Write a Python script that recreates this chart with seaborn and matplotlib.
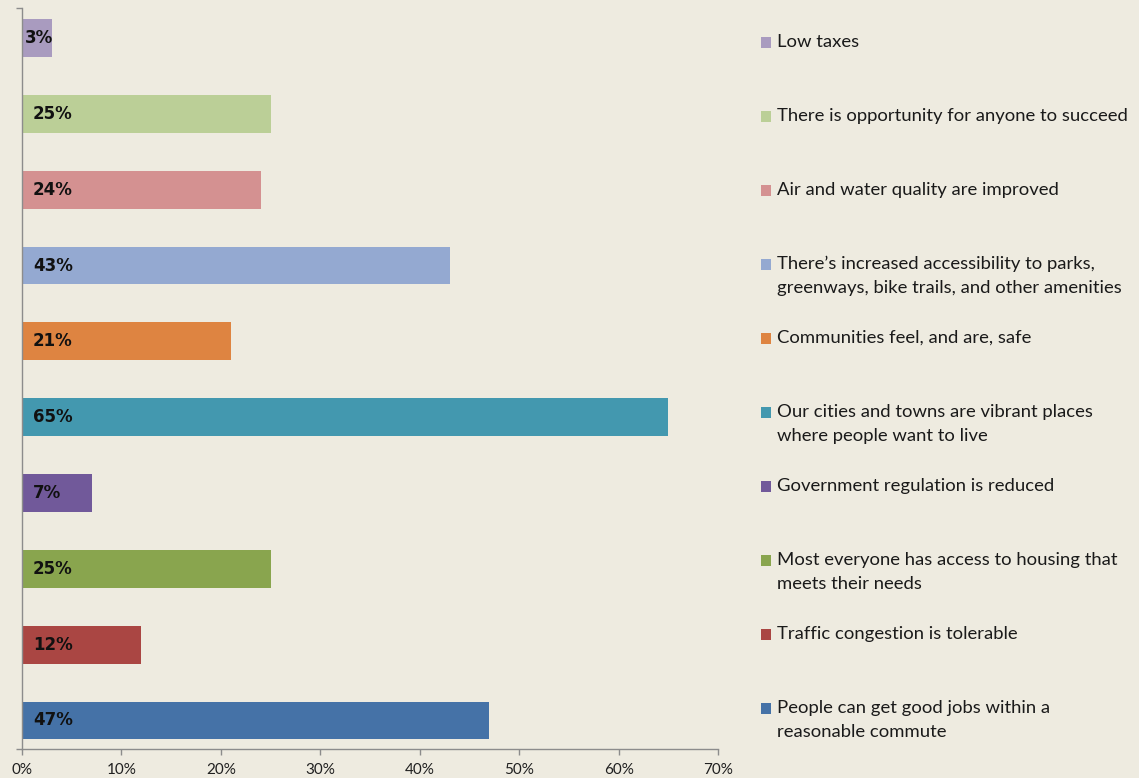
import matplotlib
matplotlib.use("Agg")
import matplotlib.pyplot as plt
import seaborn as sns
import pandas as pd
from matplotlib.patches import Rectangle

categories = [
    "Low taxes",
    "There is opportunity for anyone to succeed",
    "Air and water quality are improved",
    "There\u2019s increased accessibility to parks,\ngreenways, bike trails, and other amenities",
    "Communities feel, and are, safe",
    "Our cities and towns are vibrant places\nwhere people want to live",
    "Government regulation is reduced",
    "Most everyone has access to housing that\nmeets their needs",
    "Traffic congestion is tolerable",
    "People can get good jobs within a\nreasonable commute",
]
values = [3, 25, 24, 43, 21, 65, 7, 25, 12, 47]
colors = ["#A99BBF", "#BBCF97", "#D49191", "#94A9D1", "#DE8441",
          "#4398AF", "#71599A", "#89A54E", "#AA4643", "#4572A7"]
xticks = [0, 10, 20, 30, 40, 50, 60, 70]
xticklabels = ["0%", "10%", "20%", "30%", "40%", "50%", "60%", "70%"]

bg = "#EEEBE0"
sns.set_theme(style="white")
plt.rcParams["font.family"] = ["Lato", "DejaVu Sans"]

df = pd.DataFrame({"cat": categories, "val": values})

fig = plt.figure(figsize=(11.39, 7.78), dpi=100, facecolor=bg)
ax = fig.add_axes([22/1139, 1 - 749/778, (718 - 22)/1139, (749 - 8)/778])
ax.set_facecolor(bg)

sns.barplot(data=df, x="val", y="cat", hue="cat", palette=colors, order=categories,
            hue_order=categories, orient="h", width=0.5, legend=False,
            saturation=1, linewidth=0, ax=ax)

ax.set_xlim(0, 70)
ax.set_ylim(9.376, -0.396)
ax.set_xticks(xticks)
ax.set_xticklabels(xticklabels, fontsize=11, color="#202020")
ax.set_yticks([9.376, -0.396])
ax.set_yticklabels([])
ax.set_xlabel("")
ax.set_ylabel("")
for s in ["top", "right"]:
    ax.spines[s].set_visible(False)
for s in ["left", "bottom"]:
    ax.spines[s].set_color("#8C8C8C")
    ax.spines[s].set_linewidth(1.0)
ax.tick_params(axis="x", direction="out", length=4, width=1, color="#8C8C8C", pad=6)
ax.tick_params(axis="y", direction="out", length=4, width=1, color="#8C8C8C")
ax.tick_params(axis="both", which="both", bottom=True, left=True)

for i, v in enumerate(values):
    xpos = 1.1 if v >= 5 else 0.25
    ax.text(xpos, i, f"{v}%", ha="left", va="center", fontsize=12,
            fontweight="bold", color="#111111", family=["DejaVu Sans"])

# legend drawn in figure pixels, entries evenly spaced
W, H = 1139, 778
for i, (lab, c) in enumerate(zip(categories, colors)):
    y = 42 + 74 * i
    fig.patches.append(Rectangle(((761)/W, 1 - (y + 5.5)/H), 10/W, 11/H,
                                 transform=fig.transFigure, facecolor=c,
                                 edgecolor="none"))
    fig.text(777/W, 1 - (y - 8)/H, lab, ha="left", va="top", fontsize=13.3,
             color="#1A1A1A", linespacing=1.62)

fig.savefig("out.png", dpi=100, facecolor=bg)
